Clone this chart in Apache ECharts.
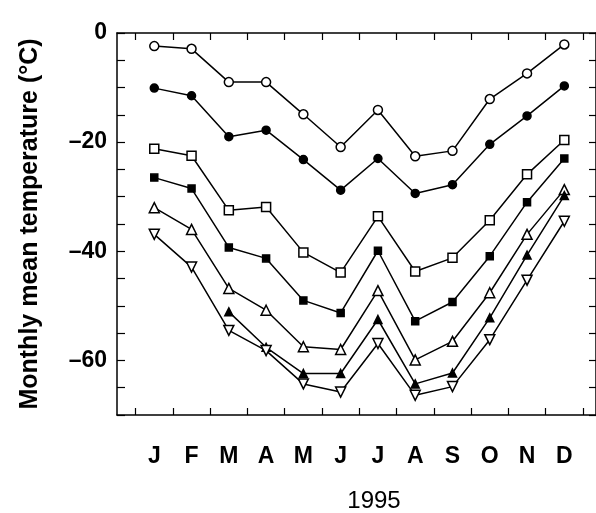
<!DOCTYPE html>
<html>
<head>
<meta charset="utf-8">
<script src="https://cdn.jsdelivr.net/npm/echarts@6.0.0/dist/echarts.min.js"></script>
<style>
  html, body { margin: 0; padding: 0; background: #fff; }
  #chart { width: 596px; height: 513px; }
</style>
</head>
<body>
<div id="chart"></div>
<script>
// month labels, 1995
var months = ['J', 'F', 'M', 'A', 'M', 'J', 'J', 'A', 'S', 'O', 'N', 'D'];
var monthPos = [1, 2, 3, 4, 5, 6, 7, 8, 9, 10, 11, 12];
var monthTicks = [0.5, 1.5, 2.5, 3.5, 4.5, 5.5, 6.5, 7.5, 8.5, 9.5, 10.5, 11.5, 12.5];
var yLabels = [0, -20, -40, -60];

// monthly mean temperature, degC
var openCircle     = [-2.4, -2.9, -9.0, -9.0, -14.9, -20.9, -14.1, -22.6, -21.6, -12.1, -7.4, -2.1];
var filledCircle   = [-10.1, -11.5, -19.0, -17.8, -23.2, -28.8, -23.0, -29.4, -27.8, -20.4, -15.2, -9.7];
var openSquare     = [-21.2, -22.5, -32.5, -31.9, -40.2, -43.9, -33.6, -43.7, -41.2, -34.3, -25.9, -19.6];
var filledSquare   = [-26.5, -28.5, -39.3, -41.3, -49.0, -51.3, -39.9, -52.8, -49.3, -40.9, -31.0, -23.0];
var openTriangle   = [-32.0, -36.0, -46.8, -50.8, -57.5, -58.0, -47.2, -59.9, -56.5, -47.6, -36.9, -28.7];
var filledTriangle = [null, null, -51.1, -57.6, -62.4, -62.4, -52.5, -64.3, -62.3, -52.2, -40.7, -29.8];
var downTriangle   = [-36.9, -42.9, -54.5, -58.2, -64.3, -65.8, -56.9, -66.4, -64.8, -56.2, -45.3, -34.5];

var font = 'Liberation Sans, Arial, sans-serif';

function pairs (vals) {
  var out = [];
  vals.forEach(function (v, i) {
    if (v !== null) out.push([monthPos[i], v]);
  });
  return out;
}

function makeSeries (name, vals, symbol, filled, size, rotate) {
  return {
    name: name,
    type: 'line',
    data: pairs(vals),
    symbol: symbol,
    symbolSize: size,
    symbolRotate: rotate || 0,
    showAllSymbol: true,
    lineStyle: { color: '#000', width: 1.5 },
    itemStyle: {
      color: filled ? '#000' : '#fff',
      borderColor: '#000',
      borderWidth: 1.5
    },
    emphasis: { disabled: true },
    z: 3
  };
}

var axisLine = { show: true, onZero: false, lineStyle: { color: '#000', width: 1.5 } };
var tickStyle = { color: '#000', width: 1.2 };

var option = {
  animation: false,
  backgroundColor: '#fff',
  title: {
    text: '1995',
    left: 369,
    top: 484,
    textAlign: 'center',
    textStyle: { fontFamily: font, fontSize: 24, fontWeight: 'normal', color: '#000' }
  },
  grid: { left: 117, right: 0, top: 33, bottom: 98, containLabel: false },
  xAxis: [
    {
      type: 'value',
      position: 'bottom',
      min: 0,
      max: 12.85,
      axisLine: axisLine,
      axisTick: { show: true, inside: true, length: 7, customValues: monthTicks, lineStyle: tickStyle },
      axisLabel: {
        customValues: monthPos,
        formatter: function (v) { return months[Math.round(v) - 1]; },
        margin: 30,
        fontFamily: font,
        fontSize: 23,
        fontWeight: 'bold',
        color: '#000'
      },
      splitLine: { show: false }
    },
    {
      type: 'value',
      position: 'top',
      min: 0,
      max: 12.85,
      axisLine: axisLine,
      axisTick: { show: true, inside: true, length: 7, customValues: monthTicks, lineStyle: tickStyle },
      axisLabel: { show: false },
      splitLine: { show: false }
    }
  ],
  yAxis: [
    {
      type: 'value',
      position: 'left',
      min: -70,
      max: 0,
      interval: 5,
      name: 'Monthly mean temperature (°C)',
      nameLocation: 'middle',
      nameGap: 74,
      nameTextStyle: { fontFamily: font, fontSize: 25, fontWeight: 'bold', color: '#000' },
      axisLine: axisLine,
      axisTick: { show: true, inside: true, length: 8, lineStyle: tickStyle },
      axisLabel: {
        customValues: yLabels,
        formatter: function (v) { return v === 0 ? '0' : '\u2013' + Math.abs(v); },
        margin: 10,
        fontFamily: font,
        fontSize: 23,
        fontWeight: 'bold',
        color: '#000'
      },
      splitLine: { show: false }
    },
    {
      type: 'value',
      position: 'right',
      min: -70,
      max: 0,
      interval: 5,
      axisLine: axisLine,
      axisTick: { show: true, inside: true, length: 7, lineStyle: tickStyle },
      axisLabel: { show: false },
      splitLine: { show: false }
    }
  ],
  series: [
    makeSeries('open circle', openCircle, 'circle', false, 9),
    makeSeries('filled circle', filledCircle, 'circle', true, 8),
    makeSeries('open square', openSquare, 'rect', false, 9),
    makeSeries('filled square', filledSquare, 'rect', true, 7),
    makeSeries('open triangle', openTriangle, 'triangle', false, 10),
    makeSeries('filled triangle', filledTriangle, 'triangle', true, 8),
    makeSeries('inverted triangle', downTriangle, 'triangle', false, 10, 180)
  ]
};

var chart = echarts.init(document.getElementById('chart'));
chart.setOption(option);
</script>
</body>
</html>
